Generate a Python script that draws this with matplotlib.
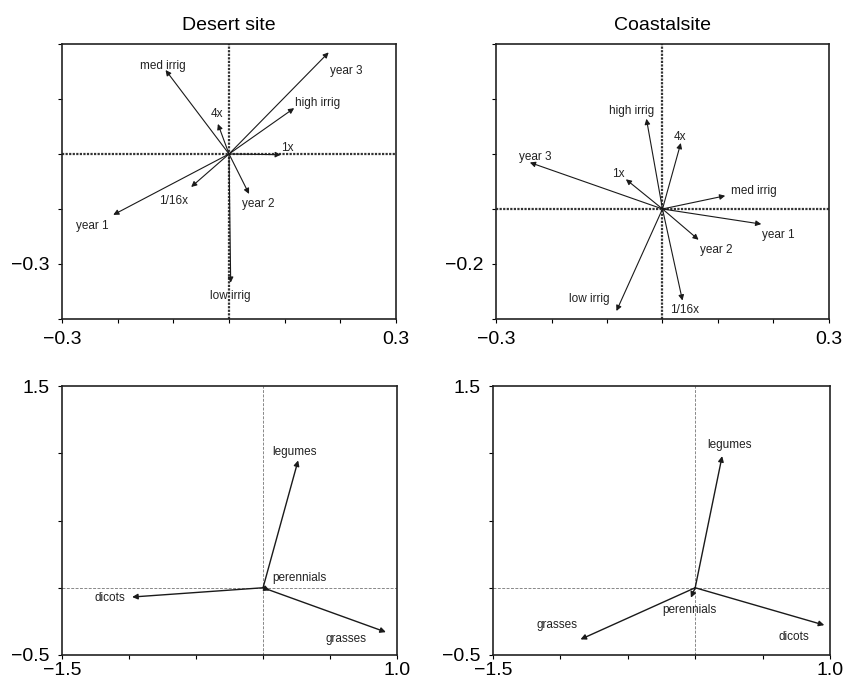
import matplotlib
matplotlib.use("Agg")
import matplotlib.pyplot as plt
import numpy as np

plt.rcParams["font.family"] = ["Liberation Sans", "DejaVu Sans"]

# top row: treatment vectors (biplot end points)
treat_names = ["med irrig", "year 3", "high irrig", "4x", "1x",
               "1/16x", "year 1", "year 2", "low irrig"]
desert_x = [-0.114, 0.179, 0.117, -0.020, 0.093, -0.068, -0.208, 0.036, 0.003]
desert_y = [0.229, 0.277, 0.125, 0.082, -0.002, -0.090, -0.166, -0.109, -0.351]
coastal_x = [0.113, -0.239, -0.029, 0.033, -0.066, 0.036, 0.178, 0.065, -0.083]
coastal_y = [0.048, 0.169, 0.328, 0.240, 0.108, -0.333, -0.055, -0.112, -0.371]

# bottom row: functional group vectors
group_names = ["legumes", "dicots", "grasses", "perennials"]
desert_gx = [0.262, -0.977, 0.917, 0.05]
desert_gy = [0.947, -0.069, -0.330, -0.02]
coastal_gx = [0.200, 0.958, -0.851, -0.032]
coastal_gy = [0.979, -0.278, -0.384, -0.074]

# label anchor points (centre of text), same order as names
desert_lab = [(-0.119, 0.240), (0.211, 0.227), (0.159, 0.138), (-0.022, 0.108),
              (0.105, 0.017), (-0.100, -0.128), (-0.245, -0.196),
              (0.053, -0.137), (0.002, -0.386)]
coastal_lab = [(0.164, 0.065), (-0.229, 0.190), (-0.056, 0.355), (0.032, 0.262),
               (-0.080, 0.126), (0.040, -0.369), (0.209, -0.094),
               (0.097, -0.148), (-0.132, -0.329)]
desert_glab = [(0.237, 1.011), (-1.142, -0.074), (0.616, -0.384), (0.274, 0.074)]
coastal_glab = [(0.252, 1.058), (0.733, -0.367), (-1.022, -0.280), (-0.040, -0.166)]


def fmt_ticks(ax, xt, yt, xlab, ylab, pad=6):
    ax.set_xticks(xt)
    ax.set_yticks(yt)
    ax.set_xticklabels([f"{v:.1f}".replace("-", "\u2212") if np.isclose(v, xlab).any() else ""
                        for v in xt])
    ax.set_yticklabels([f"{v:.1f}".replace("-", "\u2212") if np.isclose(v, ylab).any() else ""
                        for v in yt])
    ax.tick_params(direction="out", length=3, width=0.8, labelsize=14, pad=6)
    ax.tick_params(axis="x", pad=pad)


def draw_vectors(ax, xs, ys, names, labels, lw=0.8):
    for x, y, name, (lx, ly) in zip(xs, ys, names, labels):
        ax.annotate("", xy=(x, y), xytext=(0, 0),
                    arrowprops=dict(arrowstyle="-|>", lw=lw, color="#1a1a1a",
                                    mutation_scale=8, shrinkA=0, shrinkB=0))
        ax.text(lx, ly, name, ha="center", va="center", fontsize=8.5, color="#222222")


fig = plt.figure(figsize=(8.44, 6.82), dpi=100)
ax_tl = fig.add_axes([0.0735, 0.5323, 0.3957, 0.4032])
ax_tr = fig.add_axes([0.5877, 0.5323, 0.3945, 0.4032])
ax_bl = fig.add_axes([0.0735, 0.0396, 0.3969, 0.3944])
ax_br = fig.add_axes([0.5841, 0.0396, 0.3993, 0.3944])

for ax in [ax_tl, ax_tr]:
    ax.axhline(0, color="#333333", lw=1.6, ls=(0, (1, 0.6)), zorder=1)
    ax.axvline(0, color="#333333", lw=1.6, ls=(0, (1, 0.6)), zorder=1)
    ax.set_xlim(-0.3, 0.3)
for ax in [ax_bl, ax_br]:
    ax.axhline(0, color="#888888", lw=0.7, ls=(0, (3, 1.5)), zorder=1)
    ax.axvline(0, color="#888888", lw=0.7, ls=(0, (3, 1.5)), zorder=1)
    ax.set_xlim(-1.5, 1.0)
    ax.set_ylim(-0.5, 1.5)
for ax in [ax_tl, ax_tr, ax_bl, ax_br]:
    for s in ax.spines.values():
        s.set_linewidth(1.2)
        s.set_color("#222222")

ax_tl.set_ylim(-0.45, 0.3)
ax_tr.set_ylim(-0.4, 0.6)

fmt_ticks(ax_tl, np.arange(-0.3, 0.31, 0.1), np.arange(-0.45, 0.31, 0.15), [-0.3, 0.3], [-0.3])
fmt_ticks(ax_tr, np.arange(-0.3, 0.31, 0.1), np.arange(-0.4, 0.61, 0.2), [-0.3, 0.3], [-0.2])
fmt_ticks(ax_bl, np.arange(-1.5, 1.01, 0.5), np.arange(-0.5, 1.51, 0.5), [-1.5, 1.0], [-0.5, 1.5], pad=2)
fmt_ticks(ax_br, np.arange(-1.5, 1.01, 0.5), np.arange(-0.5, 1.51, 0.5), [-1.5, 1.0], [-0.5, 1.5], pad=2)

draw_vectors(ax_tl, desert_x, desert_y, treat_names, desert_lab)
draw_vectors(ax_tr, coastal_x, coastal_y, treat_names, coastal_lab)
draw_vectors(ax_bl, desert_gx, desert_gy, group_names, desert_glab, lw=1.0)
draw_vectors(ax_br, coastal_gx, coastal_gy, group_names, coastal_glab, lw=1.0)

ax_tl.set_title("Desert site", fontsize=14, pad=10)
ax_tr.set_title("Coastalsite", fontsize=14, pad=10)

fig.savefig("out.png", dpi=100)
